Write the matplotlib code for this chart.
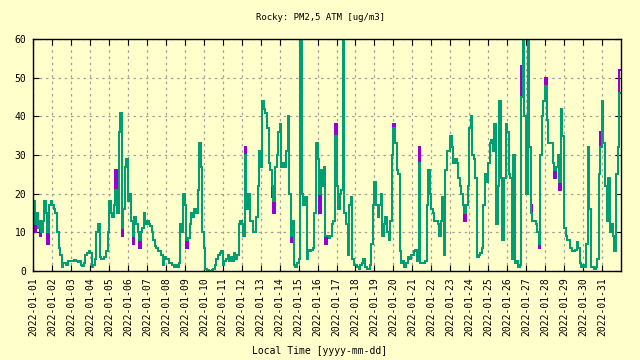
import numpy as np
import matplotlib as mpl
mpl.use('AGG')
import matplotlib.pyplot as plt

mpl.rc('font', **{'family': 'DejaVu Sans Mono', 'size': 7})

# PM2.5 (ug/m3), one list per day, 12 readings a day (every 2 h)
jan01 = [18, 12, 15, 11, 13, 10, 13, 18, 15, 10, 17, 18]
jan02 = [17, 16, 15, 10, 6, 4, 1, 2, 2, 1.5, 2.5, 2.5]
jan03 = [2.5, 2.5, 2.8, 2.5, 2.2, 2.5, 1.5, 1.2, 2, 4, 4.5, 5]
jan04 = [4.5, 1, 1.5, 3, 10, 12, 3.5, 3, 3, 3.5, 5, 10]
jan05 = [18, 15, 14, 17, 21, 15, 36, 41, 11, 16, 27, 29]
jan06 = [18, 20, 13, 9, 14, 12, 10, 8, 10, 11, 15, 12]
jan07 = [13, 12, 11.5, 10, 8, 6.5, 6, 5, 5, 4, 1.5, 3.5]
jan08 = [3, 3, 2, 2, 1.5, 1, 1.5, 1, 2, 12, 10, 20]
jan09 = [17, 8, 8.5, 12, 15, 14, 16, 15, 21, 33, 27, 10]
jan10 = [6, 0.5, 0.2, 0, 0, 0.3, 0.5, 1.5, 3, 4, 4.5, 5]
jan11 = [1.5, 2.5, 3, 4, 2.5, 3.5, 2.5, 4.5, 3, 4, 12, 13]
jan12 = [12, 9, 30, 16, 20, 13, 13, 10, 10, 14, 22, 31]
jan13 = [27, 44, 42, 41, 37, 28, 26, 22, 18, 27, 30, 36]
jan14 = [38, 27, 28, 27, 31, 40, 20, 9, 13, 1.5, 1, 2]
jan15 = [3, 62, 20, 17, 19, 3, 5.5, 5, 5.5, 6, 15, 33]
jan16 = [29, 20, 26, 22, 27, 9, 9, 8.5, 9, 12, 13, 35]
jan17 = [22, 16, 20, 21, 62, 15, 12, 4, 17, 19, 3, 1.5]
jan18 = [1.5, 1, 0.5, 1.5, 2, 3, 1, 0.5, 0.5, 1.5, 7, 17]
jan19 = [23, 17, 14, 17, 20, 9, 12, 14, 10, 8, 13, 30]
jan20 = [37, 33, 26, 25, 5, 2, 2.5, 1, 2, 3.5, 3, 4]
jan21 = [4, 5, 5.5, 2.5, 28, 2, 2, 2, 2.5, 17, 26, 20]
jan22 = [16, 15, 13, 13, 12, 9, 13, 19, 4, 26, 31, 31]
jan23 = [35, 32, 28, 29, 28, 24, 22, 20, 17, 15, 17, 22]
jan24 = [37, 40, 30, 29, 24, 3.5, 4, 4.5, 6, 17, 25, 23]
jan25 = [28, 33, 34, 31, 38, 12, 22, 44, 24, 8, 24, 38]
jan26 = [36, 25, 24, 3, 30, 2, 2.5, 1, 1.5, 45, 62, 40]
jan27 = [20, 62, 32, 15, 13, 13, 12, 10, 7, 30, 40, 44]
jan28 = [48, 39, 33, 33, 33, 28, 26, 27, 30, 23, 42, 35]
jan29 = [11, 9, 8, 8, 6, 5, 5, 5.5, 7.5, 6, 2, 1]
jan30 = [1.5, 1, 7, 32, 16, 1, 1, 0.5, 1, 3, 25, 32]
jan31 = [44, 33, 22, 13, 24, 10, 12, 9, 5, 25, 32, 46]

# second channel (purple): same as green except where it shows (day, slot, value)
purple_diff = [(0, 1, 10), (0, 4, 9), (0, 9, 7), (4, 4, 26), (4, 8, 9),
               (5, 3, 7), (5, 7, 6), (8, 1, 6), (11, 2, 32), (12, 7, 19),
               (12, 8, 15), (13, 7, 7.5), (15, 1, 15), (15, 5, 7), (15, 11, 38),
               (19, 0, 38), (20, 4, 32), (22, 9, 13), (25, 9, 53), (26, 3, 17),
               (26, 8, 6), (27, 0, 50), (27, 6, 24), (27, 9, 21), (29, 11, 36),
               (30, 11, 52)]

days = [jan01, jan02, jan03, jan04, jan05, jan06, jan07, jan08, jan09, jan10,
        jan11, jan12, jan13, jan14, jan15, jan16, jan17, jan18, jan19, jan20,
        jan21, jan22, jan23, jan24, jan25, jan26, jan27, jan28, jan29, jan30, jan31]
day_labels = ['2022-01-%02d' % (i + 1) for i in range(len(days))]

green = np.array(days, dtype=float)
purple = green.copy()
for d, s, v in purple_diff:
    purple[d, s] = v

n = green.size
t = np.arange(n + 1) / 12.0
g = np.append(green.ravel(), green.ravel()[-1])
p = np.append(purple.ravel(), purple.ravel()[-1])

bg = '#ffffcc'
fig = plt.figure(figsize=(6.4, 3.6), dpi=100, facecolor=bg)
ax = fig.add_axes([0.052, 0.248, 0.918, 0.643])
ax.set_facecolor(bg)

ax.step(t, p, where='post', color='#9400d3', lw=1.3, antialiased=False)
ax.step(t, g, where='post', color='#009e73', lw=1.3, antialiased=False)

ax.set_xlim(0, 31)
ax.set_ylim(0, 60)
ax.set_xticks(np.arange(len(days)))
ax.set_xticklabels(day_labels, rotation=90, va='top')
ax.set_yticks(np.arange(0, 61, 10))
ax.tick_params(direction='in', length=4, width=0.8, top=True, right=True, pad=5)
ax.grid(True, color='#a0a0a0', linestyle=(0, (2, 3)), lw=0.9)
ax.set_axisbelow(True)
for s in ax.spines.values():
    s.set_linewidth(1.0)

fig.text(0.5, 0.95, 'Rocky: PM2,5 ATM [ug/m3]', ha='center', va='center', fontsize=6.5)
fig.text(0.5, 0.025, 'Local Time [yyyy-mm-dd]', ha='center', va='center', fontsize=7)

plt.savefig('out.png', dpi=100, facecolor=bg)
